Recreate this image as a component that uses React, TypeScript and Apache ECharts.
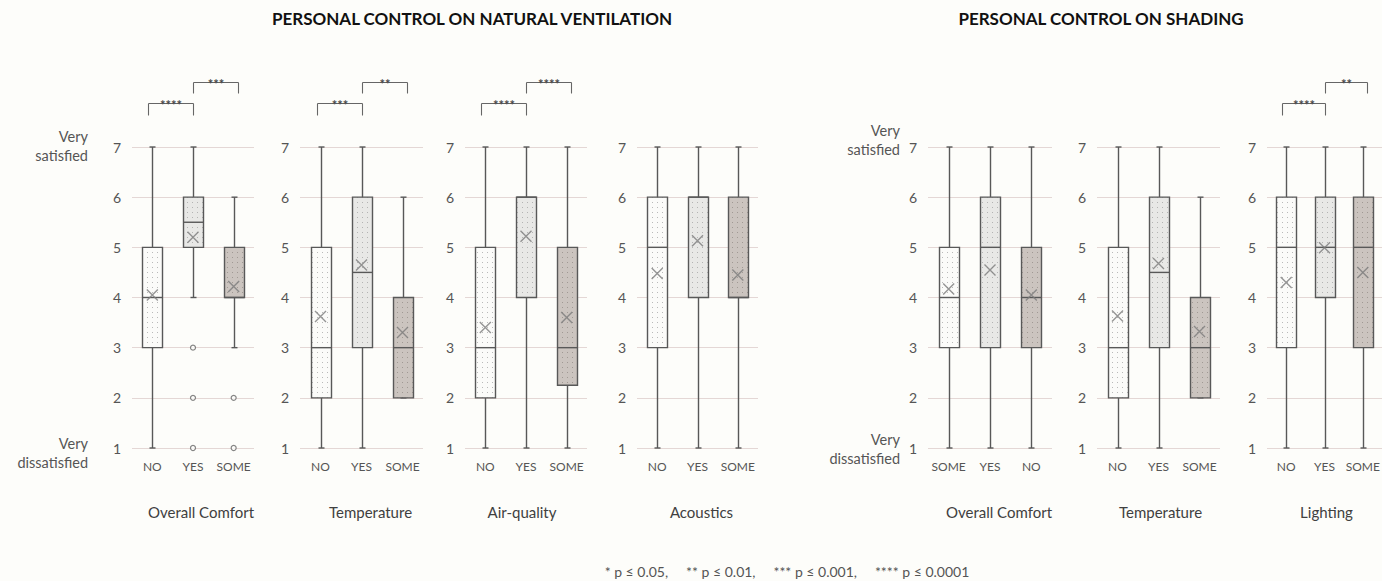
import React, { useEffect, useRef } from "react";
import * as echarts from "echarts";

// ---------- data ----------
const groupTitles = ["PERSONAL CONTROL ON NATURAL VENTILATION", "PERSONAL CONTROL ON SHADING"];
const footnote = "* p ≤ 0.05,     ** p ≤ 0.01,     *** p ≤ 0.001,     **** p ≤ 0.0001";
const scaleEndLabels = ["Very\nsatisfied", "Very\ndissatisfied"];

const panelNames = ["Overall Comfort", "Temperature", "Air-quality", "Acoustics", "Overall Comfort", "Temperature", "Lighting"];
const ventCategories = ["NO", "YES", "SOME"];
const shadeComfortCategories = ["SOME", "YES", "NO"];
const panelCategories = [ventCategories, ventCategories, ventCategories, ventCategories, shadeComfortCategories, ventCategories, ventCategories];

// [min, Q1, median, Q3, max]
const ventComfortStats = [[1, 3, 4, 5, 7], [4, 5, 5.5, 6, 7], [3, 4, 4, 5, 6]];
const ventTemperatureStats = [[1, 2, 3, 5, 7], [1, 3, 4.5, 6, 7], [2, 2, 3, 4, 6]];
const ventAirQualityStats = [[1, 2, 3, 5, 7], [1, 4, 6, 6, 7], [1, 2.25, 3, 5, 7]];
const ventAcousticsStats = [[1, 3, 5, 6, 7], [1, 4, 6, 6, 7], [1, 4, 4, 6, 7]];
const shadeComfortStats = [[1, 3, 4, 5, 7], [1, 3, 5, 6, 7], [1, 3, 4, 5, 7]];
const shadeTemperatureStats = [[1, 2, 3, 5, 7], [1, 3, 4.5, 6, 7], [2, 2, 3, 4, 6]];
const shadeLightingStats = [[1, 3, 5, 6, 7], [1, 4, 5, 6, 7], [1, 3, 5, 6, 7]];
const panelStats = [ventComfortStats, ventTemperatureStats, ventAirQualityStats, ventAcousticsStats, shadeComfortStats, shadeTemperatureStats, shadeLightingStats];

const ventComfortMeans = [4.05, 5.2, 4.22];
const ventTemperatureMeans = [3.62, 4.65, 3.3];
const ventAirQualityMeans = [3.4, 5.22, 3.6];
const ventAcousticsMeans = [4.48, 5.13, 4.45];
const shadeComfortMeans = [4.17, 4.55, 4.05];
const shadeTemperatureMeans = [3.63, 4.68, 3.32];
const shadeLightingMeans = [4.3, 4.99, 4.5];
const panelMeans = [ventComfortMeans, ventTemperatureMeans, ventAirQualityMeans, ventAcousticsMeans, shadeComfortMeans, shadeTemperatureMeans, shadeLightingMeans];

// [category index, value]
const ventComfortOutliers = [[1, 3], [1, 2], [1, 1], [2, 2], [2, 1]];
const panelOutliers = [ventComfortOutliers, [], [], [], [], [], []];

// [from category, to category, stars]
const ventComfortBrackets = [[0, 1, "****"], [1, 2, "***"]];
const ventTemperatureBrackets = [[0, 1, "***"], [1, 2, "**"]];
const ventAirQualityBrackets = [[0, 1, "****"], [1, 2, "****"]];
const shadeLightingBrackets = [[0, 1, "****"], [1, 2, "**"]];
const panelBrackets = [ventComfortBrackets, ventTemperatureBrackets, ventAirQualityBrackets, [], [], [], shadeLightingBrackets];

// ---------- layout / style ----------
const FONT = "Lato, 'Open Sans', sans-serif";
const BG = "#fdfdfa";
const GRID_COLOR = "#e4d7d5";
const LINE = "#585858";
const TEXT = "#555555";
const gridLayout = [
  { left: 132, width: 122 },
  { left: 300, width: 123 },
  { left: 465, width: 122 },
  { left: 637, width: 121 },
  { left: 928, width: 124 },
  { left: 1097, width: 123 },
  { left: 1267, width: 123 },
];
const nameShift = [8, 9, -4, 4, 9, 2, 2];
const GRID_TOP = 147;
const GRID_HEIGHT = 301;
const BOX_W = 20;

function makePattern(bg: string, dot: string) {
  const c = document.createElement("canvas");
  c.width = 5;
  c.height = 5;
  const ctx = c.getContext("2d")!;
  ctx.fillStyle = bg;
  ctx.fillRect(0, 0, 5, 5);
  ctx.fillStyle = dot;
  ctx.fillRect(2, 2, 1, 1);
  return { image: c.toDataURL(), repeat: "repeat", imageWidth: 5, imageHeight: 5 } as any;
}

export default function App() {
  const ref = useRef<HTMLDivElement>(null);

  useEffect(() => {
    if (!ref.current) return;
    const chart = echarts.init(ref.current, null, { renderer: "svg" });
    const fills = [
      makePattern("#fbfbf9", "#b9b9b9"),
      makePattern("#e8e8e6", "#b3b3b3"),
      makePattern("#cbc4bf", "#a09994"),
    ];

    const grid = gridLayout.map((g) => ({ left: g.left, width: g.width, top: GRID_TOP, height: GRID_HEIGHT }));
    const xAxis = panelNames.map((n, i) => ({
      type: "category",
      gridIndex: i,
      data: panelCategories[i],
      axisLine: { show: false },
      axisTick: { show: false },
      axisLabel: { interval: 0, margin: 12, color: TEXT, fontSize: 12, fontFamily: FONT },
      splitLine: { show: false },
      name: n,
      nameLocation: "middle",
      nameGap: 56,
      nameTextStyle: {
        color: "#404040",
        fontSize: 15,
        fontFamily: FONT,
        padding: nameShift[i] >= 0 ? [0, 0, 0, nameShift[i] * 2] : [0, -nameShift[i] * 2, 0, 0],
      },
    }));
    const yAxis = panelNames.map((_, i) => ({
      type: "value",
      gridIndex: i,
      min: 1,
      max: 7,
      interval: 1,
      axisLine: { show: false },
      axisTick: { show: false },
      axisLabel: { margin: 11, color: TEXT, fontSize: 14, fontFamily: FONT },
      splitLine: { show: true, lineStyle: { color: GRID_COLOR, width: 1 } },
    }));

    const series: any[] = [];
    panelStats.forEach((stats, i) => {
      series.push({
        type: "custom",
        xAxisIndex: i,
        yAxisIndex: i,
        silent: true,
        encode: { x: 0, y: [1, 2, 3, 4, 5] },
        data: stats.map((s, c) => [c, ...s]),
        renderItem: (params: any, api: any) => {
          const c = api.value(0);
          const pMin = api.coord([c, api.value(1)]);
          const pQ1 = api.coord([c, api.value(2)]);
          const pMed = api.coord([c, api.value(3)]);
          const pQ3 = api.coord([c, api.value(4)]);
          const pMax = api.coord([c, api.value(5)]);
          const x = Math.round(pMin[0]) + 0.5;
          const ls = { stroke: LINE, lineWidth: 1.4 };
          const cap = 3;
          return {
            type: "group",
            children: [
              { type: "line", shape: { x1: x, y1: pMax[1], x2: x, y2: pQ3[1] }, style: ls },
              { type: "line", shape: { x1: x, y1: pQ1[1], x2: x, y2: pMin[1] }, style: ls },
              { type: "line", shape: { x1: x - cap, y1: pMax[1], x2: x + cap, y2: pMax[1] }, style: ls },
              { type: "line", shape: { x1: x - cap, y1: pMin[1], x2: x + cap, y2: pMin[1] }, style: ls },
              {
                type: "rect",
                shape: { x: x - BOX_W / 2, y: pQ3[1], width: BOX_W, height: pQ1[1] - pQ3[1] },
                style: { fill: fills[c], stroke: LINE, lineWidth: 1.4 },
              },
              { type: "line", shape: { x1: x - BOX_W / 2, y1: pMed[1], x2: x + BOX_W / 2, y2: pMed[1] }, style: ls },
            ],
          };
        },
        z: 2,
      });
      series.push({
        type: "scatter",
        xAxisIndex: i,
        yAxisIndex: i,
        silent: true,
        symbol: "path://M0,0L10,10M10,0L0,10",
        symbolSize: 11,
        itemStyle: { color: "rgba(0,0,0,0)", borderColor: "#7c7c7c", borderWidth: 1.4 },
        data: panelMeans[i].map((m, c) => [c, m]),
        z: 4,
      });
      if (panelOutliers[i].length) {
        series.push({
          type: "scatter",
          xAxisIndex: i,
          yAxisIndex: i,
          silent: true,
          symbol: "circle",
          symbolSize: 5,
          itemStyle: { color: BG, borderColor: "#666", borderWidth: 1.2 },
          data: panelOutliers[i],
          z: 4,
        });
      }
      const br = panelBrackets[i];
      if (br.length) {
        series.push({
          type: "custom",
          xAxisIndex: i,
          yAxisIndex: i,
          silent: true,
          clip: false,
          encode: { x: [0, 1] },
          data: br.map((b) => [b[0], b[1]]),
          renderItem: (params: any, api: any) => {
            const idx = params.dataIndex;
            const from = api.value(0);
            const to = api.value(1);
            const p1 = api.coord([from, 7]);
            const p2 = api.coord([to, 7]);
            const level = idx === 0 ? 44 : 65;
            const drop = idx === 0 ? 12 : 11;
            const xl = Math.round(p1[0] - (idx === 0 ? 4 : 0)) + 0.5;
            const xr = Math.round(p2[0] + (idx === 0 ? 0 : 4)) + 0.5;
            const yt = Math.round(p1[1] - level) + 0.5;
            const ls = { stroke: "#666", lineWidth: 1.1 };
            return {
              type: "group",
              children: [
                { type: "line", shape: { x1: xl, y1: yt, x2: xr, y2: yt }, style: ls },
                { type: "line", shape: { x1: xl, y1: yt, x2: xl, y2: yt + drop }, style: ls },
                { type: "line", shape: { x1: xr, y1: yt, x2: xr, y2: yt + drop }, style: ls },
                {
                  type: "text",
                  style: {
                    text: String(br[idx][2]),
                    x: (xl + xr) / 2,
                    y: yt + 1,
                    align: "center",
                    verticalAlign: "middle",
                    fill: "#4a4a4a",
                    fontSize: 13,
                    fontWeight: "bold",
                    fontFamily: FONT,
                  },
                },
              ],
            };
          },
          z: 5,
        });
      }
    });

    chart.setOption({
      animation: false,
      backgroundColor: BG,
      grid,
      xAxis,
      yAxis,
      series,
    });

    const labelPanels = [
      { grid: 0, gap: 44, top: -1, bottom: 5 },
      { grid: 4, gap: 28, top: -7, bottom: 1 },
    ];
    const graphics: any[] = [];
    labelPanels.forEach((lp) => {
      const a = chart.convertToPixel({ gridIndex: lp.grid } as any, [0, 7]) as number[];
      const b = chart.convertToPixel({ gridIndex: lp.grid } as any, [1, 1]) as number[];
      const bottom1 = chart.convertToPixel({ gridIndex: lp.grid } as any, [0, 1]) as number[];
      const band = b[0] - a[0];
      const left = a[0] - band / 2;
      [
        { text: scaleEndLabels[0], y: a[1] + lp.top },
        { text: scaleEndLabels[1], y: bottom1[1] + lp.bottom },
      ].forEach((t) => {
        graphics.push({
          type: "text",
          x: left - lp.gap,
          y: t.y,
          silent: true,
          style: {
            text: t.text,
            align: "right",
            verticalAlign: "middle",
            fill: TEXT,
            fontSize: 14.5,
            lineHeight: 19,
            fontFamily: FONT,
          },
        });
      });
    });
    [
      { text: groupTitles[0], x: 472 },
      { text: groupTitles[1], x: 1101 },
    ].forEach((t) => {
      graphics.push({
        type: "text",
        x: t.x,
        y: 18,
        silent: true,
        style: {
          text: t.text,
          align: "center",
          verticalAlign: "middle",
          fill: "#111",
          fontSize: 17,
          fontWeight: "bold",
          fontFamily: FONT,
        },
      });
    });
    graphics.push({
      type: "text",
      x: 787,
      y: 571,
      silent: true,
      style: {
        text: footnote,
        align: "center",
        verticalAlign: "middle",
        fill: TEXT,
        fontSize: 14,
        fontFamily: FONT,
      },
    });
    chart.setOption({ graphic: graphics });

    return () => chart.dispose();
  }, []);

  return (
    <div
      ref={ref}
      style={{ position: "absolute", left: 0, top: 0, width: 1382, height: 581 }}
    />
  );
}
